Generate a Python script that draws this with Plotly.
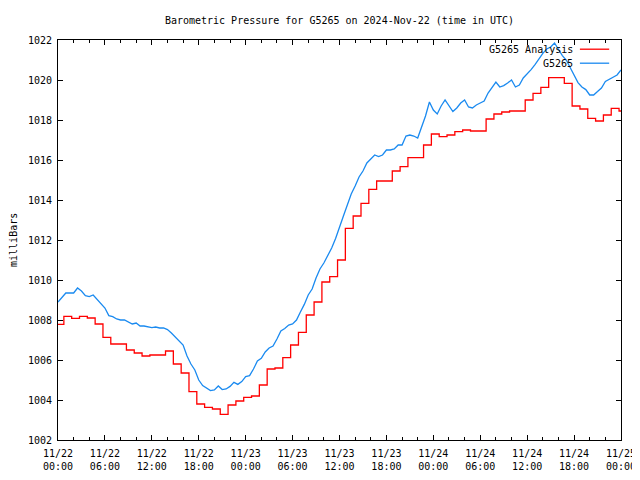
import plotly.graph_objects as go
import pandas as pd

# ---------------- data ----------------
start = pd.Timestamp("2024-11-22 00:00")
end = pd.Timestamp("2024-11-25 00:00")

# Hourly analysis values (step changes ~15 min before each hour)
analysis_vals = [
    1007.78, 1008.18, 1008.08, 1008.18, 1008.10, 1007.80, 1007.13, 1006.80,
    1006.80, 1006.50, 1006.35, 1006.20, 1006.25, 1006.25, 1006.45, 1005.80,
    1005.35, 1004.42, 1003.80, 1003.63, 1003.55, 1003.28, 1003.75, 1003.95,
    1004.13, 1004.20, 1004.75, 1005.55, 1005.60, 1006.12, 1006.75, 1007.38,
    1008.25, 1008.90, 1009.90, 1010.17, 1011.00, 1012.58, 1013.20, 1013.83,
    1014.53, 1014.95, 1014.95, 1015.45, 1015.67, 1016.12, 1016.12, 1016.75,
    1017.30, 1017.17, 1017.25, 1017.42, 1017.50, 1017.45, 1017.45, 1018.05,
    1018.30, 1018.40, 1018.45, 1018.45, 1019.00, 1019.33, 1019.63, 1020.12,
    1020.12, 1019.83, 1018.70, 1018.55, 1018.08, 1017.95, 1018.25, 1018.58,
    1018.45,
]

# Station observations, every 30 minutes
station_vals = [
    1008.90, 1009.15, 1009.35, 1009.35, 1009.35, 1009.60, 1009.45, 1009.22,
    1009.17, 1009.25, 1009.05, 1008.80, 1008.60, 1008.22, 1008.17, 1008.05,
    1008.00, 1008.00, 1007.88, 1007.80, 1007.85, 1007.70, 1007.70, 1007.67,
    1007.62, 1007.65, 1007.60, 1007.60, 1007.52, 1007.35, 1007.15, 1006.95,
    1006.75, 1006.20, 1005.80, 1005.50, 1005.00, 1004.72, 1004.60, 1004.47,
    1004.50, 1004.70, 1004.52, 1004.55, 1004.68, 1004.88, 1004.78, 1004.92,
    1005.17, 1005.22, 1005.55, 1005.95, 1006.08, 1006.40, 1006.60, 1006.70,
    1007.05, 1007.45, 1007.57, 1007.75, 1007.80, 1008.00, 1008.40, 1008.78,
    1009.25, 1009.55, 1010.10, 1010.55, 1010.85, 1011.20, 1011.60, 1012.08,
    1012.60, 1013.20, 1013.75, 1014.30, 1014.70, 1015.15, 1015.45, 1015.85,
    1016.05, 1016.25, 1016.17, 1016.25, 1016.50, 1016.50, 1016.55, 1016.75,
    1016.75, 1017.20, 1017.25, 1017.20, 1017.10, 1017.67, 1018.20, 1018.90,
    1018.50, 1018.30, 1018.70, 1019.00, 1018.70, 1018.42, 1018.60, 1018.85,
    1019.00, 1018.65, 1018.60, 1018.75, 1018.85, 1018.95, 1019.35, 1019.60,
    1019.90, 1019.65, 1019.72, 1019.85, 1020.00, 1019.65, 1019.75, 1020.10,
    1020.30, 1020.52, 1020.77, 1021.08, 1021.33, 1021.55, 1021.65, 1021.85,
    1021.50, 1021.22, 1021.00, 1020.60, 1020.20, 1019.87, 1019.65, 1019.52,
    1019.25, 1019.25, 1019.42, 1019.60, 1019.93, 1020.05, 1020.15, 1020.25,
    1020.50,
]

tick_hours = [0, 6, 12, 18, 24, 30, 36, 42, 48, 54, 60, 66, 72]
tick_labels = ["11/22<br>00:00", "11/22<br>06:00", "11/22<br>12:00", "11/22<br>18:00",
               "11/23<br>00:00", "11/23<br>06:00", "11/23<br>12:00", "11/23<br>18:00",
               "11/24<br>00:00", "11/24<br>06:00", "11/24<br>12:00", "11/24<br>18:00",
               "11/25<br>00:00"]
y_ticks = [1002, 1004, 1006, 1008, 1010, 1012, 1014, 1016, 1018, 1020, 1022]

title_text = "Barometric Pressure for G5265 on 2024-Nov-22 (time in UTC)"
y_title = "milliBars"
names = ["G5265 Analysis", "G5265"]

# ---------------- derived ----------------
analysis_times = [start - pd.Timedelta(minutes=15) + pd.Timedelta(hours=k)
                  for k in range(len(analysis_vals))] + [end]
analysis_y = analysis_vals + [analysis_vals[-1]]
station_times = [start + pd.Timedelta(minutes=30 * k) for k in range(len(station_vals))]
tick_vals = [start + pd.Timedelta(hours=h) for h in tick_hours]

FONT = "DejaVu Sans Mono"
RED = "#ff0000"
BLUE = "#1a8af0"
W, H = 632, 472

fig = go.Figure()
fig.add_trace(go.Scatter(x=analysis_times, y=analysis_y, mode="lines",
                         line=dict(color=RED, width=1.3, shape="hv"),
                         name=names[0], showlegend=False))
fig.add_trace(go.Scatter(x=station_times, y=station_vals, mode="lines",
                         line=dict(color=BLUE, width=1.3),
                         name=names[1], showlegend=False))

axis_common = dict(showline=True, linecolor="black", linewidth=1, mirror="ticks",
                   ticks="inside", ticklen=5, tickcolor="black", tickwidth=1,
                   showgrid=False, zeroline=False, automargin=False,
                   tickfont=dict(family=FONT, size=10, color="black"))

fig.update_xaxes(range=[start, end], tickmode="array", tickvals=tick_vals,
                 ticktext=tick_labels, ticklabelstandoff=4,
                 minor=dict(ticks="inside", ticklen=3, tickcolor="black",
                            dtick=2 * 3600 * 1000, showgrid=False),
                 **axis_common)
fig.update_yaxes(range=[1002, 1022], tickmode="array", tickvals=y_ticks,
                 ticktext=[str(v) for v in y_ticks], ticklabelstandoff=3,
                 **axis_common)

# legend drawn gnuplot-style: text right-aligned with sample line to the right
annotations = [
    dict(text=y_title, x=-0.080, y=0.5, xref="paper", yref="paper", textangle=-90,
         showarrow=False, font=dict(family=FONT, size=10, color="black"),
         xanchor="center", yanchor="middle"),
]
shapes = []
legend_rows = [(names[0], RED, 0.977), (names[1], BLUE, 0.942)]
for text, color, yy in legend_rows:
    annotations.append(dict(text=text, x=0.918, y=yy, xref="paper", yref="paper",
                            showarrow=False, xanchor="right", yanchor="middle",
                            font=dict(family=FONT, size=10, color="black")))
    shapes.append(dict(type="line", xref="paper", yref="paper", x0=0.927, x1=0.979,
                       y0=yy, y1=yy, line=dict(color=color, width=1.3)))

fig.update_layout(
    width=W, height=H,
    margin=dict(l=50, r=19, t=32, b=40, autoexpand=False),
    plot_bgcolor="white", paper_bgcolor="white",
    title=dict(text=title_text, x=0.5, xref="paper", y=1 - 12 / H, yanchor="middle",
               font=dict(family=FONT, size=10, color="black")),
    annotations=annotations, shapes=shapes,
    font=dict(family=FONT, size=10, color="black"),
)

fig.write_html("out.html")
